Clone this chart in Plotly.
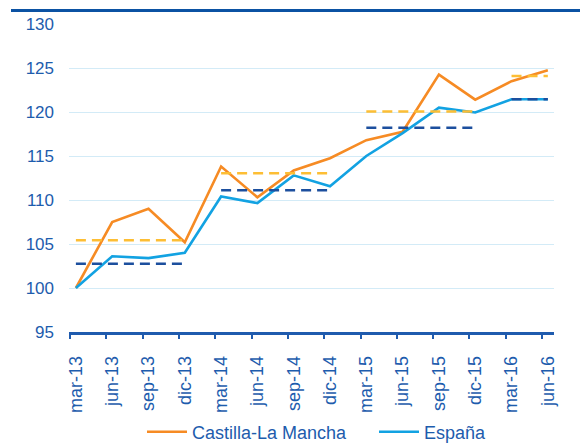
import plotly.graph_objects as go

categories = ["mar-13", "jun-13", "sep-13", "dic-13", "mar-14", "jun-14", "sep-14",
              "dic-14", "mar-15", "jun-15", "sep-15", "dic-15", "mar-16", "jun-16"]
clm = [100.0, 107.5, 109.0, 105.2, 113.8, 110.3, 113.35, 114.75, 116.8, 117.75,
       124.25, 121.4, 123.5, 124.75]
espana = [100.0, 103.6, 103.4, 104.0, 110.4, 109.65, 112.8, 111.55, 115.0, 117.6,
          120.5, 119.95, 121.45, 121.45]
# annual averages (read from the dashed segments)
years_start = [0, 4, 8, 12]
years_end = [3, 7, 11, 13]
clm_avg = [105.43, 113.05, 120.05, 124.1]
esp_avg = [102.75, 111.1, 118.2, 121.45]

TXT = "#1D5CAD"
ORANGE = "#F68B24"
BLUE = "#12A2E2"
ORANGE_D = "#FDBE34"
BLUE_D = "#1C4F9E"

OFF = 8  # page body margin
W, H = 588 - OFF, 446 - OFF
L = 69 - OFF
R = W - (554 - OFF)
T = 23.5 - OFF
B = H - (332.3 - OFF)
pw = W - L - R
ph = H - T - B

xs = list(range(len(categories)))

def seg(vals):
    x, y = [], []
    for s, e, v in zip(years_start, years_end, vals):
        x += [s, e, None]
        y += [v, v, None]
    return x, y

fig = go.Figure()
fig.add_trace(go.Scatter(x=xs, y=clm, mode="lines", name="Castilla-La Mancha",
                         line=dict(color=ORANGE, width=2.6)))
fig.add_trace(go.Scatter(x=xs, y=espana, mode="lines", name="España",
                         line=dict(color=BLUE, width=2.6)))
x1, y1 = seg(clm_avg)
fig.add_trace(go.Scatter(x=x1, y=y1, mode="lines", showlegend=False, hoverinfo="skip",
                         line=dict(color=ORANGE_D, width=2.5, dash="10px,6px")))
x2, y2 = seg(esp_avg)
fig.add_trace(go.Scatter(x=x2, y=y2, mode="lines", showlegend=False, hoverinfo="skip",
                         line=dict(color=BLUE_D, width=2.5, dash="10px,6px")))
# invisible trace for tick-mark axis
fig.add_trace(go.Scatter(x=[0], y=[95], xaxis="x2", mode="markers", showlegend=False,
                         hoverinfo="skip", marker=dict(opacity=0)))

xr = [-0.19, 13.17]
fig.update_layout(
    width=W, height=H,
    margin=dict(l=L, r=R, t=T, b=B, pad=0, autoexpand=False),
    paper_bgcolor="white", plot_bgcolor="white",
    font=dict(family="Liberation Sans, Arial, sans-serif", color=TXT, size=17),
    showlegend=True,
    legend=dict(orientation="h", xref="container", x=(150 - OFF - 8) / W, xanchor="left",
                yref="container", y=1 - (432 - OFF) / H, yanchor="middle",
                font=dict(size=18, color=TXT), entrywidth=177, entrywidthmode="pixels",
                itemwidth=40, tracegroupgap=0, bgcolor="rgba(0,0,0,0)"),
    xaxis=dict(range=xr, tickmode="array", tickvals=xs, ticktext=categories,
               tickangle=-90, ticks="", showgrid=False, zeroline=False, automargin=False,
               showline=True, linecolor="#1F5BAE", linewidth=2.5,
               tickfont=dict(size=18, color=TXT), ticklabelstandoff=14),
    xaxis2=dict(range=xr, overlaying="x", anchor="y", side="bottom", automargin=False,
                tickmode="array", tickvals=[i - 0.16 for i in xs],
                ticks="outside", ticklen=6, tickwidth=2, tickcolor="#1F5BAE",
                showticklabels=False, showgrid=False, zeroline=False, showline=False),
    yaxis=dict(range=[95, 130], dtick=5, tick0=95, showgrid=True, gridcolor="#D3EBF7",
               gridwidth=1.2, zeroline=False, showline=False, ticks="", automargin=False,
               tickfont=dict(size=17, color=TXT), ticklabelstandoff=14),
    shapes=[dict(type="line", xref="paper", yref="paper",
                 x0=(11 - 69) / pw, x1=(W - L) / pw,
                 y0=(332.3 - 10) / ph, y1=(332.3 - 10) / ph,
                 line=dict(color="#0B52A3", width=3))],
)
fig.write_html("out.html")
